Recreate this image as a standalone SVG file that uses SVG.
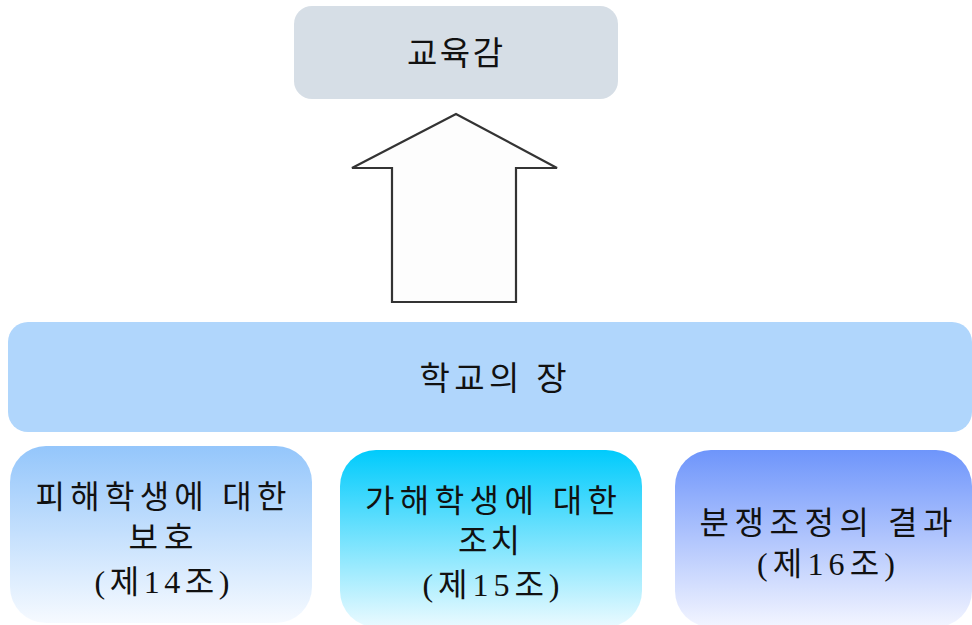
<svg xmlns="http://www.w3.org/2000/svg" width="972" height="625" viewBox="0 0 972 625">
<style>
text{font-family:"Liberation Serif","Noto Sans CJK KR",serif;fill:#111;text-anchor:middle}
.t{font-size:33px}
.b{font-size:32px}
</style>
<defs>
<linearGradient id="g1" x1="0" y1="0" x2="0" y2="1"><stop offset="0" stop-color="#94c6fb"/><stop offset="1" stop-color="#f6faff"/></linearGradient>
<linearGradient id="g2" x1="0" y1="0" x2="0" y2="1"><stop offset="0" stop-color="#00cbfc"/><stop offset="1" stop-color="#eafaff"/></linearGradient>
<linearGradient id="g3" x1="0" y1="0" x2="0" y2="1"><stop offset="0" stop-color="#6e95fb"/><stop offset="1" stop-color="#f3f5ff"/></linearGradient>
</defs>
<g id="superintendent">
<rect x="294" y="6" width="324" height="93" rx="18" fill="#d6dee6"/>
<text class="t" x="455" y="65" textLength="96" lengthAdjust="spacing">교육감</text>
</g>
<g id="connectors">
<path d="M392,302 L392,168 L352,168 L456,114 L557,168 L516,168 L516,302 Z" fill="#fdfdfd" stroke="#333" stroke-width="2.2" stroke-linejoin="miter"/>
</g>
<g id="principal">
<rect x="8" y="322" width="964" height="110" rx="20" fill="#b0d6fc"/>
<text class="t" x="493" y="390" textLength="147" lengthAdjust="spacing">학교의 장</text>
</g>
<g id="victim">
<rect x="10" y="446" width="302" height="177" rx="36" fill="url(#g1)"/>
<text class="b" x="161" y="508" textLength="251" lengthAdjust="spacing">피해학생에  대한</text>
<text class="b" x="161" y="549" textLength="65" lengthAdjust="spacing">보호</text>
<text class="b" x="162" y="593" textLength="135" lengthAdjust="spacing">(제14조)</text>
</g>
<g id="offender">
<rect x="340" y="450" width="302" height="177" rx="36" fill="url(#g2)"/>
<text class="b" x="491" y="512" textLength="252" lengthAdjust="spacing">가해학생에  대한</text>
<text class="b" x="489" y="552" textLength="62" lengthAdjust="spacing">조치</text>
<text class="b" x="491" y="596" textLength="137" lengthAdjust="spacing">(제15조)</text>
</g>
<g id="mediation">
<rect x="675" y="450" width="297" height="177" rx="36" fill="url(#g3)"/>
<text class="b" x="826" y="534" textLength="253" lengthAdjust="spacing">분쟁조정의 결과</text>
<text class="b" x="826" y="575" textLength="138" lengthAdjust="spacing">(제16조)</text>
</g>
</svg>
